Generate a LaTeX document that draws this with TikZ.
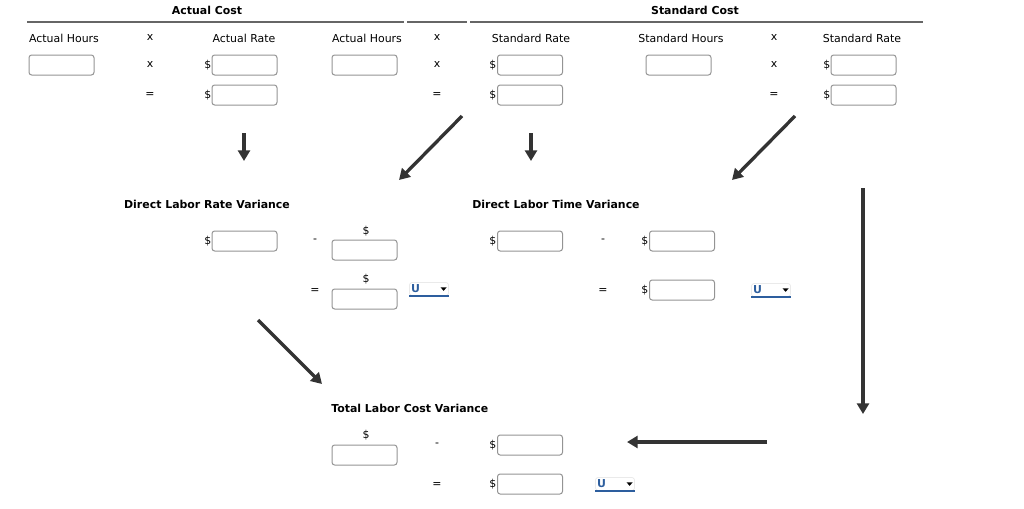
\documentclass[tikz,border=0pt]{standalone}
\usepackage{fontspec}
\setmainfont{DejaVu Sans}
\usetikzlibrary{arrows.meta}
\definecolor{arr}{HTML}{333333}
\definecolor{ublue}{HTML}{2D5E9E}
\definecolor{hl}{HTML}{666666}
\newcommand{\ddsel}[2]{%
  \node[ddbox] (#1) at (#2) {};
  \node[ddtxt, anchor=west] (#1u) at ([xshift=1pt]#1.west) {U};
  \fill[black] ([xshift=-6pt,yshift=1.2pt]#1.east) -- ++(4.5pt,0pt) -- ++(-2.25pt,-2.6pt) -- cycle;
  \draw[ublue, line width=1.6pt] ([yshift=-0.3pt]#1.south west) -- ([yshift=-0.3pt]#1.south east);
}
\begin{document}
\begin{tikzpicture}[x=0.75pt,y=-0.75pt,
  every node/.style={font=\fontsize{8.2pt}{10pt}\selectfont, inner sep=0pt},
  ttl/.style={font=\fontsize{8.2pt}{10pt}\selectfont\bfseries},
  ibox/.style={draw=black!42, line width=0.75pt, rounded corners=2pt, minimum width=48.75pt, minimum height=15pt, fill=white},
  dol/.style={anchor=east},
  hline/.style={draw=hl, line width=0.8pt},
  bigarrow/.style={draw=arr, line width=2.5pt, -{Triangle[length=8pt,width=9pt]}},
  ddbox/.style={draw=black!12, rounded corners=1.5pt, minimum width=29pt, minimum height=9.5pt, fill=white},
  ddtxt/.style={text=ublue, font=\fontsize{8.2pt}{10pt}\selectfont\bfseries}]
\useasboundingbox (0,0) rectangle (1024,508);

% headers
\node[ttl] (hac) at (207,10) {Actual Cost};
\node[ttl] (hsc) at (695,10) {Standard Cost};
\draw[hline] (27,22) -- (404,22);
\draw[hline] (407,22) -- (467,22);
\draw[hline] (470,22) -- (923,22);

% column labels
\node (c1) at (64,38) {Actual Hours};
\node (c2) at (150,38) {x};
\node (c3) at (244,38) {Actual Rate};
\node (c4) at (367,38) {Actual Hours};
\node (c5) at (437,38) {x};
\node (c6) at (531,38) {Standard Rate};
\node (c7) at (681,38) {Standard Hours};
\node (c8) at (774,38) {x};
\node (c9) at (862,38) {Standard Rate};

% row 2
\node[ibox] (b21) at (61.5,65) {};
\node (x21) at (150,65) {x};
\node[ibox] (b22) at (244.5,65) {};
\node[dol] (d22) at (211.5,65) {\$};
\node[ibox] (b23) at (364.5,65) {};
\node (x22) at (437,65) {x};
\node[ibox] (b24) at (530,65) {};
\node[dol] (d24) at (496.5,65) {\$};
\node[ibox] (b25) at (678.5,65) {};
\node (x23) at (774,65) {x};
\node[ibox] (b26) at (863.5,65) {};
\node[dol] (d26) at (830.5,65) {\$};

% row 3
\node (e31) at (150,95) {=};
\node[ibox] (b32) at (244.5,95) {};
\node[dol] (d32) at (211.5,95) {\$};
\node (e32) at (437,95) {=};
\node[ibox] (b34) at (530,95) {};
\node[dol] (d34) at (496.5,95) {\$};
\node (e33) at (774,95) {=};
\node[ibox] (b36) at (863.5,95) {};
\node[dol] (d36) at (830.5,95) {\$};

% arrows
\coordinate (a1s) at (244,133); \coordinate (a1e) at (244,161);
\coordinate (a2s) at (462,116); \coordinate (a2e) at (399,180);
\coordinate (a3s) at (531,133); \coordinate (a3e) at (531,161);
\coordinate (a4s) at (795,116); \coordinate (a4e) at (732,180);
\coordinate (a5s) at (863,188); \coordinate (a5e) at (863,414);
\coordinate (a6s) at (258,320); \coordinate (a6e) at (322,384);
\coordinate (a7s) at (767,442); \coordinate (a7e) at (627,442);
\draw[bigarrow] (a1s) -- (a1e);
\draw[bigarrow] (a2s) -- (a2e);
\draw[bigarrow] (a3s) -- (a3e);
\draw[bigarrow] (a4s) -- (a4e);
\draw[bigarrow] (a5s) -- (a5e);
\draw[bigarrow] (a6s) -- (a6e);
\draw[bigarrow] (a7s) -- (a7e);

% rate variance
\node[ttl] (trv) at (207,204) {Direct Labor Rate Variance};
\node[ibox] (r1) at (244.5,241) {};
\node[dol] (rd1) at (211.5,241) {\$};
\node (rm) at (315,241) {-};
\node (rd2) at (366,231) {\$};
\node[ibox] (r2) at (364.5,250) {};
\node (re) at (315,291) {=};
\node (rd3) at (366,279) {\$};
\node[ibox] (r3) at (364.5,299) {};
\ddsel{dd1}{429,289}

% time variance
\node[ttl] (ttv) at (556,204) {Direct Labor Time Variance};
\node[ibox] (t1) at (530,241) {};
\node[dol] (td1) at (496.5,241) {\$};
\node (tm) at (603,241) {-};
\node[ibox] (t2) at (682,241) {};
\node[dol] (td2) at (648.5,241) {\$};
\node (te) at (603,291) {=};
\node[ibox] (t3) at (682,290) {};
\node[dol] (td3) at (648.5,290) {\$};
\ddsel{dd2}{771,290}

% total variance
\node[ttl, anchor=west] (tlc) at (331,408) {Total Labor Cost Variance};
\node (ld1) at (366,435) {\$};
\node[ibox] (l1) at (364.5,455) {};
\node (lm) at (437,445) {-};
\node[ibox] (l2) at (530,445) {};
\node[dol] (ld2) at (496.5,445) {\$};
\node (le) at (437,485) {=};
\node[ibox] (l3) at (530,484) {};
\node[dol] (ld3) at (496.5,484) {\$};
\ddsel{dd3}{615,484}
\end{tikzpicture}
\end{document}
